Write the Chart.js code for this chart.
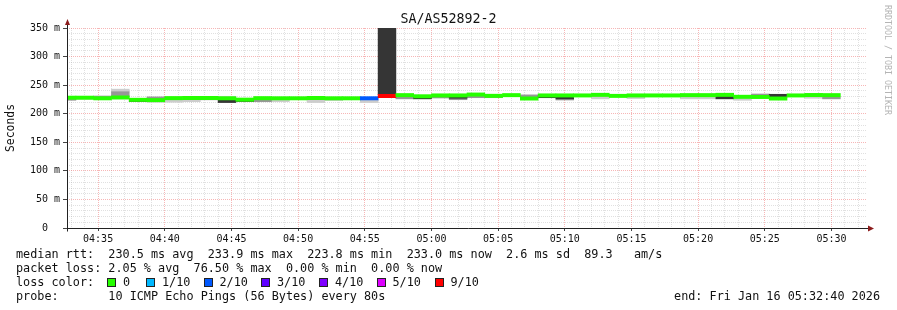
<!DOCTYPE html>
<html>
<head>
<meta charset="utf-8">
<script src="https://cdn.jsdelivr.net/npm/chart.js@4.4.0/dist/chart.umd.min.js"></script>
<style>
  html, body { margin: 0; padding: 0; background: #fff; }
  #wrap { position: relative; width: 897px; height: 310px; overflow: hidden;
          font-family: 'DejaVu Sans Mono', monospace; color: #111; }
  #chart { position: absolute; left: 0; top: 0; }
  .title { position: absolute; left: 0; top: 11px; width: 897px; text-align: center;
           font-size: 13.3px; line-height: 16px; }
  .mark { position: absolute; left: 883px; top: 5px; writing-mode: vertical-rl;
          font-size: 8.3px; color: #b4b4b4; }
  .legend { position: absolute; left: 16px; top: 247px; font-size: 11.8px;
            line-height: 14px; white-space: pre; }
  .end { position: absolute; right: 17px; top: 289px; font-size: 11.8px;
         line-height: 14px; white-space: pre; }
  .lc { position: absolute; top: 275px; font-size: 11.8px; line-height: 14px; white-space: pre; }
  .box { position: absolute; top: 278px; width: 7px; height: 7px; border: 1px solid #222; }
</style>
</head>
<body>
<div id="wrap">
  <canvas id="chart" width="897" height="250"></canvas>
  <div class="title">SA/AS52892-2</div>
  <div class="mark">RRDTOOL / TOBI OETIKER</div>
  <div class="legend">median rtt:  230.5 ms avg  233.9 ms max  223.8 ms min  233.0 ms now  2.6 ms sd  89.3   am/s
packet loss: 2.05 % avg  76.50 % max  0.00 % min  0.00 % now
loss color:
probe:       10 ICMP Echo Pings (56 Bytes) every 80s</div>
  <div class="end">end: Fri Jan 16 05:32:40 2026</div>
</div>
<script>
// time window and 80 s steps
const viewStart = '04:32:40';
const viewEnd = '05:32:40';
const firstStep = '04:32:00';
const stepSeconds = 80;

// median rtt per step (ms)
const medianRtt = [
  228, 228, 227, 228.4, 224.3, 223.8, 227.3, 227.5, 227.5, 227, 224.6,
  227.2, 227, 227, 227.5, 227, 227, 227, 231, 232.5, 230.5, 232,
  232, 233.5, 231.3, 232.5, 226.6, 232, 232, 232, 233, 231.2, 232,
  232, 232, 232.5, 232.5, 233, 229.6, 229.3, 226.6, 232, 232.7, 232.5
];

// packet loss per step (%)
const lossPct = [
  0, 0, 0, 0, 0, 0, 0, 0, 0, 0, 0,
  0, 0, 0, 0, 0, 0, 13.7, 76.5, 0, 0, 0,
  0, 0, 0, 0, 0, 0, 0, 0, 0, 0, 0,
  0, 0, 0, 0, 0, 0, 0, 0, 0, 0, 0
];

// smoke: spread of the single pings, [low, high] in ms
const lightSmoke = [
  null, [225.5, 227.5], null, [238, 243], null, [220, 222.3], [220, 224.5], [221, 225], [224, 225.5], [229, 230.5], null,
  null, [221, 224.5], null, [219.5, 225.5], [223, 225], null, [219.5, 224.5], null, null, null, null,
  null, null, null, null, null, null, null, null, [226, 230.5], null, [226.5, 229.5],
  null, null, [226, 230], [226, 230], null, [223.5, 227], null, null, null, [227, 229.5], null
];
const midSmoke = [
  [223.5, 226], null, [229, 231], [229.5, 238.5], null, [226, 229.5], null, null, null, null, null,
  [221, 224.5], null, null, null, null, null, null, null, [226, 230.5], null, [227.5, 229.8],
  [224.5, 227], [228, 231], [228, 230], null, [229.5, 233], null, [224, 226], null, null, null, null,
  null, null, null, null, null, null, [231.5, 234.5], null, null, null, [226, 229]
];
const darkSmoke = [
  null, null, null, null, [221.3, 223], null, null, null, null, [219.5, 225], [221.3, 223],
  null, null, null, null, null, null, null, [233.5, 360], null, [226, 228.5], null,
  [227, 229.3], null, null, null, null, [228, 231], [226, 230], null, null, null, null,
  null, null, null, null, [226, 231], null, null, [229.5, 234], null, null, null
];

// loss colour legend
const lossLabels = ['0', '1/10', '2/10', '3/10', '4/10', '5/10', '9/10'];
const lossLimits = [0, 1, 2, 3, 4, 5, 10];
const lossColors = ['#26ff00', '#00b8ff', '#0059ff', '#5e00ff', '#7e00ff', '#dd00ff', '#ff0000'];

const yMin = 0, yMax = 350;
const medianHalf = 2.9; // half thickness of the median band, ms

function toSec(s) {
  const p = s.split(':').map(Number);
  return p[0] * 3600 + p[1] * 60 + (p[2] || 0);
}
function hhmm(v) {
  const h = Math.floor(v / 3600), m = Math.floor((v % 3600) / 60);
  return String(h).padStart(2, '0') + ':' + String(m).padStart(2, '0');
}
function lossColor(pct) {
  const lost = pct / 10;
  const k = lossLimits.findIndex(l => lost <= l);
  return lossColors[k < 0 ? lossColors.length - 1 : k];
}

const xMin = toSec(viewStart), xMax = toSec(viewEnd);
const t0 = toSec(firstStep);
const stepX = medianRtt.map((_, i) => t0 + stepSeconds * i + stepSeconds / 2);

function band(arr) {
  const out = [];
  arr.forEach((b, i) => { if (b) out.push({ x: stepX[i], y: b }); });
  return out;
}

function ticksEvery(sec) {
  const out = [];
  for (let v = Math.ceil(xMin / sec) * sec; v <= xMax; v += sec) out.push({ value: v });
  return out;
}

// legend boxes for loss colours
const boxX = [107, 146, 203.5, 261, 319, 376.5, 434.5];
const wrap = document.getElementById('wrap');
lossLabels.forEach((lab, i) => {
  const b = document.createElement('div');
  b.className = 'box';
  b.style.left = boxX[i] + 'px';
  b.style.background = lossColors[i];
  wrap.appendChild(b);
  const t = document.createElement('div');
  t.className = 'lc';
  t.style.left = (boxX[i] + 16) + 'px';
  t.textContent = lab;
  wrap.appendChild(t);
});

const minorGrid = 'rgba(160,160,160,0.32)';
const majorGrid = 'rgba(240,110,110,0.5)';

const axisArrows = {
  id: 'axisArrows',
  afterDraw(chart) {
    const { ctx, chartArea: a } = chart;
    const x0 = Math.round(a.left) + 0.5, y0 = Math.round(a.bottom) + 0.5;
    ctx.save();
    ctx.strokeStyle = '#222';
    ctx.lineWidth = 1;
    ctx.beginPath();
    ctx.moveTo(x0, y0 + 3); ctx.lineTo(x0, a.top - 4);
    ctx.moveTo(x0, y0); ctx.lineTo(a.right + 3, y0);
    ctx.stroke();
    ctx.fillStyle = '#8c1c1c';
    ctx.beginPath();
    ctx.moveTo(x0, a.top - 9); ctx.lineTo(x0 - 2.5, a.top - 3); ctx.lineTo(x0 + 2.5, a.top - 3);
    ctx.closePath(); ctx.fill();
    ctx.beginPath();
    ctx.moveTo(a.right + 7, y0); ctx.lineTo(a.right + 1, y0 - 3); ctx.lineTo(a.right + 1, y0 + 3);
    ctx.closePath(); ctx.fill();
    ctx.restore();
  }
};

const barBase = { type: 'bar', grouped: false, barPercentage: 1, categoryPercentage: 1, borderWidth: 0 };

new Chart(document.getElementById('chart'), {
  type: 'bar',
  data: {
    datasets: [
      Object.assign({}, barBase, {
        label: 'median rtt',
        data: medianRtt.map((m, i) => ({ x: stepX[i], y: [m - medianHalf, m + medianHalf] })),
        backgroundColor: lossPct.map(lossColor)
      }),
      Object.assign({}, barBase, { label: 'smoke dark', data: band(darkSmoke), backgroundColor: '#353535' }),
      Object.assign({}, barBase, { label: 'smoke mid', data: band(midSmoke), backgroundColor: '#979797' }),
      Object.assign({}, barBase, { label: 'smoke light', data: band(lightSmoke), backgroundColor: '#cdcdcd' })
    ]
  },
  options: {
    responsive: false,
    animation: false,
    layout: { padding: { top: 28, right: 30, left: 0, bottom: 0 } },
    plugins: { legend: { display: false }, tooltip: { enabled: false }, title: { display: false } },
    scales: {
      x: {
        type: 'linear', position: 'bottom', min: xMin, max: xMax, offset: false,
        afterBuildTicks: s => { s.ticks = ticksEvery(300); },
        afterFit: s => { s.height = 22; },
        ticks: {
          autoSkip: false, maxRotation: 0, padding: 2, color: '#111',
          font: { family: "'DejaVu Sans Mono'", size: 10 },
          callback: v => hhmm(v)
        },
        grid: { offset: false, color: majorGrid, tickColor: '#444', tickLength: 3 },
        border: { display: false, dash: [1, 1] }
      },
      xMinor: {
        type: 'linear', position: 'bottom', min: xMin, max: xMax, offset: false,
        afterBuildTicks: s => { s.ticks = ticksEvery(60); },
        afterFit: s => { s.height = 0; },
        ticks: { display: false },
        grid: {
          offset: false, drawTicks: false,
          color: c => (c.tick && c.tick.value % 300 === 0) ? 'rgba(0,0,0,0)' : minorGrid
        },
        border: { display: false, dash: [1, 1] }
      },
      y: {
        type: 'linear', position: 'left', min: yMin, max: yMax,
        afterFit: s => { s.width = 67; },
        ticks: {
          stepSize: 10, autoSkip: false, padding: 3, color: '#111',
          font: { family: "'DejaVu Sans Mono'", size: 10 },
          callback: v => v % 50 === 0 ? (v === 0 ? '0  ' : v + ' m') : ''
        },
        grid: {
          color: c => (c.tick && c.tick.value % 50 === 0) ? majorGrid : minorGrid,
          tickColor: c => (c.tick && c.tick.value % 50 === 0) ? '#444' : 'rgba(0,0,0,0)',
          tickLength: 4
        },
        border: { display: false, dash: [1, 1] },
        title: {
          display: true, text: 'Seconds', color: '#111',
          font: { family: "'DejaVu Sans Mono'", size: 11.4 },
          padding: { top: 4, bottom: 0 }
        }
      }
    }
  },
  plugins: [axisArrows]
});
</script>
</body>
</html>
